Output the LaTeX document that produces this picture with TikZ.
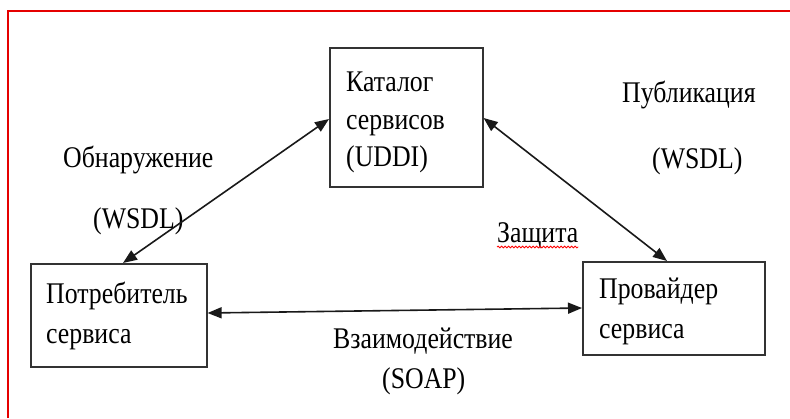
\documentclass[tikz,border=0pt]{standalone}
\usepackage{fontspec}
\setmainfont{Liberation Serif}
\usetikzlibrary{arrows.meta,decorations.pathmorphing}
\newcommand{\nrw}[1]{\scalebox{0.86}[1]{#1}}
\begin{document}
\begin{tikzpicture}[x=1pt,y=-1pt,
  box/.style={draw=black!80,line width=1.6pt,rectangle,inner sep=0pt,anchor=north west},
  txt/.style={inner sep=0pt,anchor=north west,align=left,font=\rmfamily\fontsize{30}{40}\selectfont},
  lbl/.style={inner sep=0pt,anchor=base west,font=\rmfamily\fontsize{30}{36}\selectfont},
  conn/.style={draw=black!90,line width=1.6pt,{Triangle[length=14pt,width=11pt]}-{Triangle[length=14pt,width=11pt]}},
  frame/.style={draw=red!90!black,line width=2pt}]
\useasboundingbox (0,0) rectangle (790,418);
\fill[white] (0,0) rectangle (790,418);
\draw[frame] (8,418) -- (8,11) -- (790,11);
% boxes
\node[box,minimum width=153pt,minimum height=139pt] (cat) at (329,47) {};
\node[box,minimum width=176pt,minimum height=103pt] (cons) at (30,263) {};
\node[box,minimum width=182pt,minimum height=93pt] (prov) at (582,261) {};
% box texts
\node[txt,font=\rmfamily\fontsize{30}{37.5}\selectfont] (catT) at (346,72) {\nrw{Каталог}\\\nrw{сервисов}\\\nrw{(UDDI)}};
\node[txt] (consT) at (46,282) {\nrw{Потребитель}\\\nrw{сервиса}};
\node[txt] (provT) at (599,278) {\nrw{Провайдер}\\\nrw{сервиса}};
% labels
\node[lbl] (l1) at (63,167) {\nrw{Обнаружение}};
\node[lbl] (l2) at (93,228) {\nrw{(WSDL)}};
\node[lbl] (l3) at (622,102) {\nrw{Публикация}};
\node[lbl] (l4) at (652,168) {\nrw{(WSDL)}};
\node[lbl] (l5) at (497,242) {\nrw{Защита}};
\node[lbl] (l6) at (333,348) {\nrw{Взаимодействие}};
\node[lbl] (l7) at (382,388) {\nrw{(SOAP)}};
\draw[red,line width=0.8pt,decorate,decoration={snake,amplitude=0.9pt,segment length=3.5pt}] ([yshift=-5pt]l5.base west) -- ([yshift=-5pt]l5.base east);
% connectors
\draw[conn] ([xshift=93pt]cons.north west) -- ([yshift=-72pt]cat.north west);
\draw[conn] ([yshift=-71pt]cat.north east) -- ([xshift=85pt]prov.north west);
\draw[conn] ([yshift=-50pt]cons.north east) -- ([yshift=-47pt]prov.north west);
\end{tikzpicture}
\end{document}
